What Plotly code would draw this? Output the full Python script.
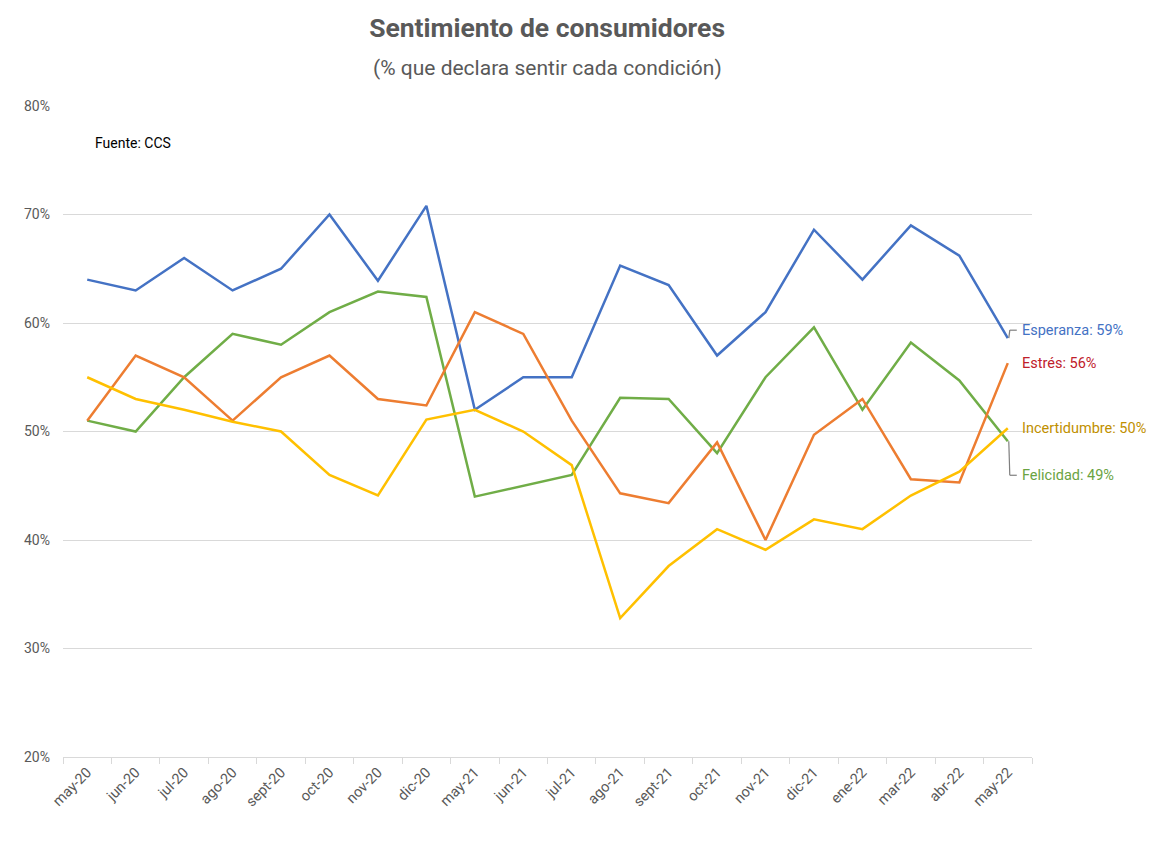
import plotly.graph_objects as go

categories = ["may-20", "jun-20", "jul-20", "ago-20", "sept-20", "oct-20", "nov-20", "dic-20",
              "may-21", "jun-21", "jul-21", "ago-21", "sept-21", "oct-21", "nov-21", "dic-21",
              "ene-22", "mar-22", "abr-22", "may-22"]
esperanza = [64, 63, 66, 63, 65, 70, 63.9, 70.8, 52, 55, 55, 65.3, 63.5, 57, 61, 68.6, 64, 69, 66.2, 58.6]
felicidad = [51, 50, 55, 59, 58, 61, 62.9, 62.4, 44, 45, 46, 53.1, 53, 48, 55, 59.6, 52, 58.2, 54.7, 49.1]
estres = [51, 57, 55, 51, 55, 57, 53, 52.4, 61, 59, 51, 44.3, 43.4, 49, 40, 49.7, 53, 45.6, 45.3, 56.3]
incertidumbre = [55, 53, 52, 50.9, 50, 46, 44.1, 51.1, 52, 50, 46.9, 32.8, 37.6, 41, 39.1, 41.9, 41, 44.1, 46.3, 50.3]
y_ticks = [20, 30, 40, 50, 60, 70, 80]

FONT = "Roboto, Liberation Sans, sans-serif"

series = [
    ("Esperanza", esperanza, "#4472C4", "#4472C4", 8),
    ("Felicidad", felicidad, "#70AD47", "#6AA342", -34),
    ("Estrés", estres, "#ED7D31", "#C0202A", 0),
    ("Incertidumbre", incertidumbre, "#FFC000", "#BF9000", 0),
]

fig = go.Figure()
for name, vals, col, _, _ in series:
    fig.add_trace(go.Scatter(x=categories, y=vals, mode="lines", name=name,
                             line=dict(color=col, width=2.5), hoverinfo="skip"))

annotations = []
shapes = []
last = categories[-1]
for name, vals, col, lcol, shift in series:
    v = vals[-1]
    annotations.append(dict(x=last, y=v, xref="x", yref="y", text=f"{name}: {round(v):.0f}%",
                            showarrow=False, xanchor="left", yanchor="middle", xshift=12, yshift=shift,
                            font=dict(family=FONT, size=14.5, color=lcol)))
    if shift != 0:
        shapes.append(dict(type="line", xref="x", yref="y", xsizemode="pixel", ysizemode="pixel",
                           xanchor=last, yanchor=v, x0=1, x1=2, y0=0, y1=shift,
                           line=dict(color="#7F7F7F", width=1.2)))
        shapes.append(dict(type="line", xref="x", yref="y", xsizemode="pixel", ysizemode="pixel",
                           xanchor=last, yanchor=v, x0=2, x1=9, y0=shift, y1=shift,
                           line=dict(color="#7F7F7F", width=1.2)))

PLOT_H = 841 - 106 - 84
annotations.append(dict(x=0.031, y=0.9426, xref="paper", yref="paper", text="Fuente: CCS",
                        showarrow=False, xanchor="left", yanchor="middle",
                        font=dict(family=FONT, size=14, color="#000000")))
annotations.append(dict(x=0.5, y=1 + (106 - 68) / PLOT_H, xref="paper", yref="paper",
                        text="(% que declara sentir cada condición)",
                        showarrow=False, xanchor="center", yanchor="middle",
                        font=dict(family=FONT, size=21, color="#595959")))

fig.update_layout(
    width=1174, height=841,
    margin=dict(l=63, r=142, t=106, b=84),
    paper_bgcolor="white", plot_bgcolor="white",
    showlegend=False,
    title=dict(text="<b>Sentimiento de consumidores</b>", x=0.466, xanchor="center",
               y=1 - 28 / 841, yanchor="middle", yref="container",
               font=dict(family=FONT, size=26.5, color="#595959")),
    annotations=annotations,
    shapes=shapes,
    xaxis=dict(type="category", range=[-0.5, len(categories) - 0.5], showgrid=False,
               showline=True, linecolor="#D9D9D9", linewidth=1.2,
               ticks="outside", tickson="boundaries", ticklen=6, tickcolor="#D9D9D9",
               tickangle=-45, tickfont=dict(family=FONT, size=14.5, color="#595959")),
    yaxis=dict(range=[20, 80], tickvals=y_ticks, ticktext=[f"{t}%" for t in y_ticks],
               showgrid=True, gridcolor="#D9D9D9", gridwidth=1.2, zeroline=False,
               showline=False, ticks="", ticklabelstandoff=12,
               tickfont=dict(family=FONT, size=14, color="#595959")),
)

fig.write_html("out.html", config={"displayModeBar": False},
               post_script="document.body.style.margin='0px';")
